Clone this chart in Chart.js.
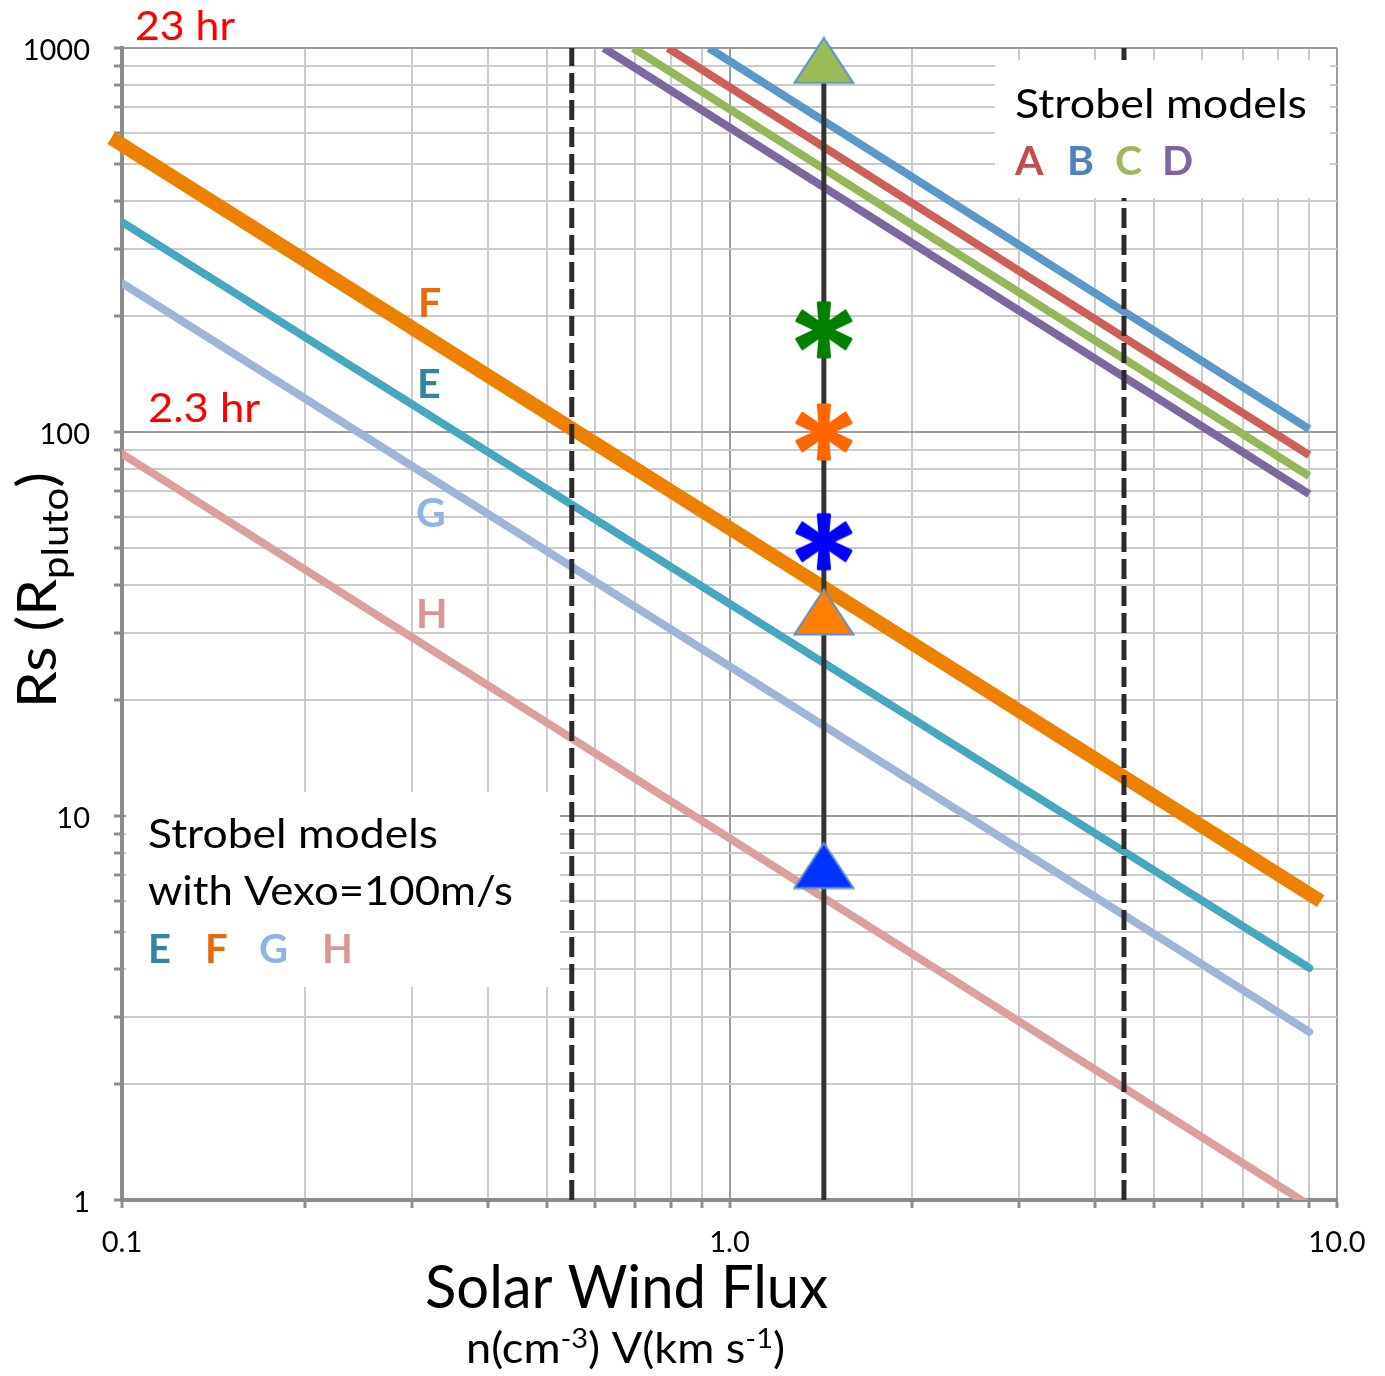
<!DOCTYPE html>
<html><head><meta charset="utf-8">
<script src="https://cdn.jsdelivr.net/npm/chart.js@4.4.1/dist/chart.umd.min.js"></script>
<style>html,body{margin:0;padding:0;background:#fff;}</style>
</head><body>
<canvas id="c" width="1385" height="1376"></canvas>
<script>
// ---------- DATA ----------
const xMin = 0.1, xMax = 10;
const yMin = 1, yMax = 1000;
const xTickValues = [0.1,0.2,0.3,0.4,0.5,0.6,0.7,0.8,0.9,1,2,3,4,5,6,7,8,9,10];
const yTickValues = [1,2,3,4,5,6,7,8,9,10,20,30,40,50,60,70,80,90,100,200,300,400,500,600,700,800,900,1000];
const xLabelValues = [0.1, 1, 10];
const xLabelTexts = ['0.1', '1.0', '10.0'];
const yLabelValues = [1, 10, 100, 1000];
const yLabelTexts = ['1', '10', '100', '1000'];

// Strobel models A-D (flux, Rs)
const seriesA = [{x:0.792, y:1000}, {x:9, y:87.1}];
const seriesB = [{x:0.925, y:1000}, {x:9, y:101.8}];
const seriesC = [{x:0.694, y:1000}, {x:9, y:76.8}];
const seriesD = [{x:0.621, y:1000}, {x:9, y:68.9}];
// Strobel models with Vexo=100 m/s E-H
const seriesE = [{x:0.1, y:352}, {x:9, y:4.02}];
const seriesF = [{x:0.096, y:583}, {x:9.4, y:6.0}];
const seriesG = [{x:0.1, y:244}, {x:9, y:2.74}];
const seriesH = [{x:0.1, y:87.7}, {x:9, y:0.97}];

// vertical reference lines
const fluxNominal = 1.43;
const fluxLow = 0.55;
const fluxHigh = 4.46;
const nominalLine = [{x:fluxNominal, y:1}, {x:fluxNominal, y:928}];
const lowLine = [{x:fluxLow, y:1}, {x:fluxLow, y:1000}];
const highLine = [{x:fluxHigh, y:1}, {x:fluxHigh, y:1000}];

// markers on the nominal flux line
const greenTriangle = [{x:fluxNominal, y:928}];
const orangeTriangle = [{x:fluxNominal, y:34.0}];
const blueTriangle = [{x:fluxNominal, y:7.43}];
const greenStar = [{x:fluxNominal, y:184.5}];
const orangeStar = [{x:fluxNominal, y:100}];
const blueStar = [{x:fluxNominal, y:51.8}];

// ---------- STYLE HELPERS ----------
function makeTriangle(fill) {
  const c = document.createElement('canvas');
  c.width = 62; c.height = 48;
  const g = c.getContext('2d');
  g.beginPath();
  g.moveTo(31, 1.5); g.lineTo(1.5, 46.5); g.lineTo(60.5, 46.5); g.closePath();
  g.fillStyle = fill; g.fill();
  g.lineWidth = 2; g.strokeStyle = '#5E8FCB'; g.stroke();
  return c;
}
function makeAsterisk(color) {
  const c = document.createElement('canvas');
  c.width = 64; c.height = 64;
  const g = c.getContext('2d');
  g.fillStyle = color; g.strokeStyle = color; g.lineJoin = 'round'; g.lineWidth = 3;
  const cx = 32, cy = 32;
  // six tapered arms: angle measured from "up"
  const arms = [[0, 27], [Math.PI, 27], [Math.PI/3, 28], [2*Math.PI/3, 28], [-Math.PI/3, 28], [-2*Math.PI/3, 28]];
  for (const [a, L] of arms) {
    const ux = Math.sin(a), uy = -Math.cos(a);
    const px = -uy, py = ux;
    const w0 = 3.2, w1 = 5.6;
    g.beginPath();
    g.moveTo(cx + px * w0, cy + py * w0);
    g.lineTo(cx + ux * L + px * w1, cy + uy * L + py * w1);
    g.lineTo(cx + ux * L - px * w1, cy + uy * L - py * w1);
    g.lineTo(cx - px * w0, cy - py * w0);
    g.closePath();
    g.fill(); g.stroke();
  }
  g.beginPath(); g.arc(cx, cy, 5, 0, Math.PI * 2); g.fill();
  return c;
}
function isMajor(v) {
  const l = Math.log10(v);
  return Math.abs(l - Math.round(l)) < 1e-6;
}
function labelFor(v, vals, texts) {
  for (let i = 0; i < vals.length; i++) if (Math.abs(vals[i] - v) / vals[i] < 1e-6) return texts[i];
  return '';
}

const lineDS = (label, data, color, order, extra) => Object.assign({
  label, data, showLine: true, borderColor: color, backgroundColor: color,
  borderWidth: 8, pointRadius: 0, pointHoverRadius: 0, borderCapStyle: 'round',
  clip: 0, order
}, extra || {});
const markDS = (label, data, style) => ({
  label, data, showLine: false, pointStyle: style, pointRadius: 30, pointHoverRadius: 30,
  clip: false, order: 0
});

// ---------- DECORATION PLUGIN ----------
const FAM = 'Lato, "Open Sans", sans-serif';
function fitText(ctx, text, x, y, w, font, color) {
  ctx.save();
  ctx.font = font; ctx.fillStyle = color; ctx.textBaseline = 'alphabetic'; ctx.textAlign = 'left';
  const m = ctx.measureText(text).width;
  ctx.translate(x, y); ctx.scale(w / m, 1);
  ctx.fillText(text, 0, 0);
  ctx.restore();
}
function richText(ctx, parts, x, y, w, color, rotate) {
  ctx.save();
  ctx.fillStyle = color; ctx.textBaseline = 'alphabetic'; ctx.textAlign = 'left';
  let total = 0;
  for (const p of parts) { ctx.font = p.font; p.w = ctx.measureText(p.t).width; total += p.w; }
  ctx.translate(x, y);
  if (rotate) ctx.rotate(-Math.PI / 2);
  ctx.scale(w / total, 1);
  let cx = 0;
  for (const p of parts) { ctx.font = p.font; ctx.fillText(p.t, cx, p.dy || 0); cx += p.w; }
  ctx.restore();
}
const decor = {
  id: 'decor',
  afterDraw(chart) {
    const ctx = chart.ctx;
    ctx.save();
    // white text boxes
    ctx.fillStyle = '#ffffff';
    ctx.fillRect(995, 60, 335, 138);
    ctx.fillRect(126, 792, 434, 195);
    // top right legend text
    fitText(ctx, 'Strobel models', 1015, 118, 292, `40px ${FAM}`, '#000');
    ctx.font = `bold 41px ${FAM}`; ctx.textBaseline = 'alphabetic';
    [['A', 1015, '#C0504D'], ['B', 1067, '#4F81BD'], ['C', 1115, '#9BBB59'], ['D', 1162, '#8064A2']]
      .forEach(([t, x, c]) => { ctx.fillStyle = c; ctx.fillText(t, x, 175); });
    // bottom left legend text
    fitText(ctx, 'Strobel models', 148, 848, 290, `40px ${FAM}`, '#000');
    fitText(ctx, 'with Vexo=100m/s', 148, 905, 365, `40px ${FAM}`, '#000');
    ctx.font = `bold 40px ${FAM}`;
    [['E', 148, '#31859C'], ['F', 205, '#E46C0A'], ['G', 259, '#8EB4E3'], ['H', 322, '#D99694']]
      .forEach(([t, x, c]) => { ctx.fillStyle = c; ctx.fillText(t, x, 963); });
    // inline line labels
    ctx.font = `bold 41px ${FAM}`;
    [['F', 418, 317, '#E46C0A'], ['E', 417, 398, '#31859C'], ['G', 416, 527, '#8EB4E3'], ['H', 416, 628, '#D99694']]
      .forEach(([t, x, y, c]) => { ctx.fillStyle = c; ctx.fillText(t, x, y); });
    // red annotations
    fitText(ctx, '23 hr', 135, 40, 100, `40px ${FAM}`, '#FF0000');
    fitText(ctx, '2.3 hr', 148, 422, 112, `40px ${FAM}`, '#FF0000');
    // axis titles
    fitText(ctx, 'Solar Wind Flux', 425, 1308, 403, `60px ${FAM}`, '#000');
    richText(ctx, [
      {t: 'n(cm', font: `42px ${FAM}`},
      {t: '-3', font: `27px ${FAM}`, dy: -15},
      {t: ') V(km s', font: `42px ${FAM}`},
      {t: '-1', font: `27px ${FAM}`, dy: -15},
      {t: ')', font: `42px ${FAM}`}
    ], 466, 1363, 319, '#000', false);
    richText(ctx, [
      {t: 'Rs (R', font: `54px ${FAM}`},
      {t: 'pluto', font: `37px ${FAM}`, dy: 12},
      {t: ')', font: `54px ${FAM}`}
    ], 56, 708, 236, '#000', true);
    ctx.restore();
  }
};

// ---------- CHART ----------
const gridColor = c => (c.tick && isMajor(c.tick.value)) ? '#9d9d9d' : '#cbcbcb';

new Chart(document.getElementById('c'), {
  type: 'scatter',
  data: {
    datasets: [
      markDS('green triangle', greenTriangle, makeTriangle('#9BBB59')),
      markDS('orange triangle', orangeTriangle, makeTriangle('#FF8000')),
      markDS('blue triangle', blueTriangle, makeTriangle('#0033FF')),
      markDS('green star', greenStar, makeAsterisk('#008000')),
      markDS('orange star', orangeStar, makeAsterisk('#FF6600')),
      markDS('blue star', blueStar, makeAsterisk('#0000FF')),
      lineDS('low', lowLine, '#2b2b2b', 1, {borderWidth: 5, borderDash: [20, 7], borderCapStyle: 'butt'}),
      lineDS('high', highLine, '#2b2b2b', 1, {borderWidth: 5, borderDash: [20, 7], borderCapStyle: 'butt'}),
      lineDS('nominal', nominalLine, '#333333', 2, {borderWidth: 5, borderCapStyle: 'butt'}),
      lineDS('F', seriesF, '#EE8000', 3, {borderWidth: 14, borderCapStyle: 'butt', clip: false}),
      lineDS('E', seriesE, '#46A8BE', 4),
      lineDS('G', seriesG, '#9FB4D6', 4),
      lineDS('H', seriesH, '#D9A09D', 4),
      lineDS('A', seriesA, '#CD5F5B', 4, {borderCapStyle: 'butt'}),
      lineDS('B', seriesB, '#5B97C9', 4, {borderCapStyle: 'butt'}),
      lineDS('C', seriesC, '#95B75A', 4, {borderCapStyle: 'butt'}),
      lineDS('D', seriesD, '#7D67A0', 4, {borderCapStyle: 'butt'})
    ]
  },
  options: {
    responsive: false,
    animation: false,
    devicePixelRatio: 1,
    layout: {padding: {top: 48, right: 48, left: 0, bottom: 0}},
    plugins: {legend: {display: false}, tooltip: {enabled: false}},
    events: [],
    scales: {
      x: {
        type: 'logarithmic', min: xMin, max: xMax,
        afterBuildTicks: s => { s.ticks = xTickValues.map(v => ({value: v, major: isMajor(v)})); },
        afterFit: s => { s.height = 176; },
        ticks: {
          autoSkip: false, maxRotation: 0, minRotation: 0, padding: 17, color: '#000',
          font: {family: FAM, size: 29},
          callback: v => labelFor(v, xLabelValues, xLabelTexts)
        },
        grid: {color: gridColor, lineWidth: 2, tickLength: 8, tickColor: '#8c8c8c', tickWidth: 3},
        border: {color: '#8c8c8c', width: 4}
      },
      y: {
        type: 'logarithmic', min: yMin, max: yMax,
        afterBuildTicks: s => { s.ticks = yTickValues.map(v => ({value: v, major: isMajor(v)})); },
        afterFit: s => { s.width = 122; },
        ticks: {
          autoSkip: false, padding: 24, color: '#000', labelOffset: 3,
          font: {family: FAM, size: 29},
          callback: v => labelFor(v, yLabelValues, yLabelTexts)
        },
        grid: {color: gridColor, lineWidth: 2, tickLength: 8, tickColor: '#8c8c8c', tickWidth: 3},
        border: {color: '#8c8c8c', width: 4}
      }
    }
  },
  plugins: [decor]
});
</script>
</body></html>
